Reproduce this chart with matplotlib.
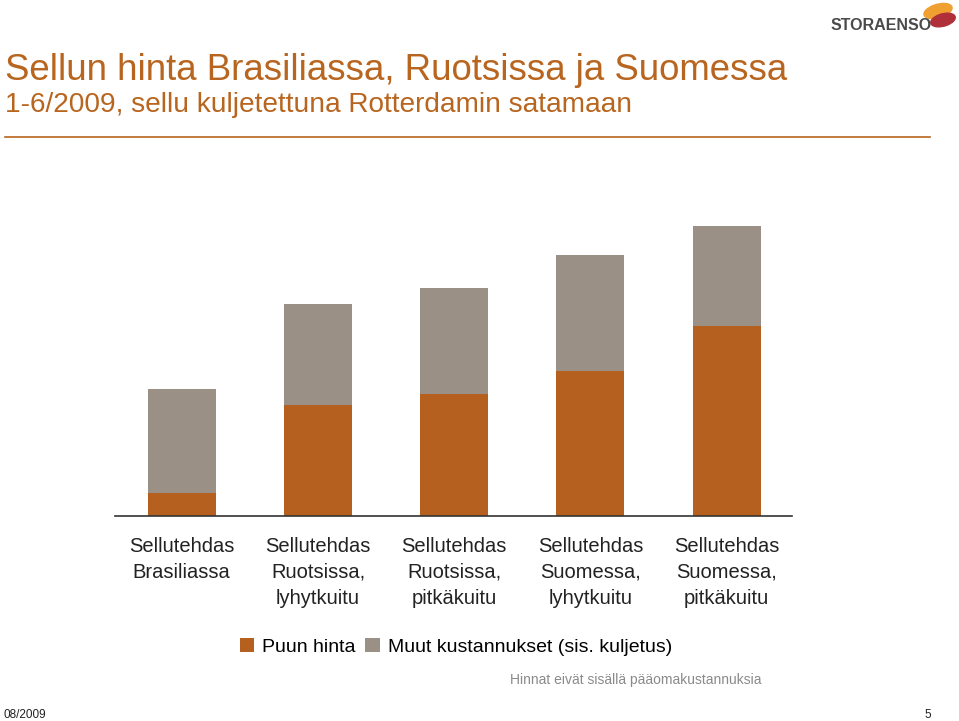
import matplotlib.pyplot as plt
from matplotlib.patches import Ellipse

# data (relative units, no y axis in the original)
categories = ["Sellutehdas\nBrasiliassa",
              "Sellutehdas\nRuotsissa,\nlyhytkuitu",
              "Sellutehdas\nRuotsissa,\npitkäkuitu",
              "Sellutehdas\nSuomessa,\nlyhytkuitu",
              "Sellutehdas\nSuomessa,\npitkäkuitu"]
puun_hinta = [23.5, 111, 122, 145, 190]
muut_kustannukset = [103.5, 101, 106, 116, 100.5]
series_names = ["Puun hinta", "Muut kustannukset (sis. kuljetus)"]

orange = "#B5601E"
grey = "#9A9085"
title_col = "#B8651F"

plt.rcParams['font.family'] = ['Liberation Sans', 'DejaVu Sans']

fig = plt.figure(figsize=(9.59, 7.21), dpi=100)
W, H = 959, 721

ax = fig.add_axes([115 / W, 1 - 516 / H, (792 - 115) / W, (516 - 200) / H])
x = range(len(categories))
b1 = ax.bar(x, puun_hinta, width=0.5, color=orange, label=series_names[0])
b2 = ax.bar(x, muut_kustannukset, width=0.5, bottom=puun_hinta, color=grey,
            label=series_names[1])
ax.set_xlim(-0.49, 4.48)
ax.set_ylim(0, 316)
for s in ["top", "right", "left"]:
    ax.spines[s].set_visible(False)
ax.spines["bottom"].set_color("#333333")
ax.spines["bottom"].set_linewidth(1.2)
ax.set_yticks([])
ax.set_xticks(list(x))
ax.set_xticklabels(categories, fontsize=14.5, color="#222222", linespacing=1.47)
ax.tick_params(axis="x", length=0, pad=15)

leg = fig.legend(handles=[b1, b2], labels=series_names, loc="center",
                 bbox_to_anchor=(456 / W, 1 - 647 / H), ncol=2, frameon=False,
                 fontsize=14, handlelength=0.75, handleheight=0.75,
                 handletextpad=0.4, columnspacing=0.5)

# title block
fig.text(5 / W, 1 - 71 / H, "Sellun hinta Brasiliassa, Ruotsissa ja Suomessa",
         fontsize=26.4, color=title_col, va="center", ha="left")
fig.text(5 / W, 1 - 105 / H, "1-6/2009, sellu kuljetettuna Rotterdamin satamaan",
         fontsize=20.2, color=title_col, va="center", ha="left")
fig.add_artist(plt.Line2D([5 / W, 930 / W], [1 - 137 / H, 1 - 137 / H],
                          color=title_col, lw=1.2))

# logo
fig.text(831 / W, 1 - 26 / H, "STORAENSO", fontsize=11.5, fontweight="bold",
         color="#4a4a4a", va="center", ha="left")
fig.add_artist(Ellipse((938 / W, 1 - 11 / H), 30 / W, 13 / H, angle=25,
                       color="#F0A030"))
fig.add_artist(Ellipse((943 / W, 1 - 20 / H), 26 / W, 12 / H, angle=25,
                       color="#B0303A"))

# notes
fig.text(510 / W, 1 - 680 / H, "Hinnat eivät sisällä pääomakustannuksia",
         fontsize=10, color="#8a8a8a", va="center", ha="left")
fig.text(3 / W, 1 - 715 / H, "08/2009", fontsize=8.5, color="#222222",
         va="center", ha="left")
fig.text(931 / W, 1 - 715 / H, "5", fontsize=8.5, color="#222222",
         va="center", ha="right")

fig.savefig("out.png", dpi=100)
